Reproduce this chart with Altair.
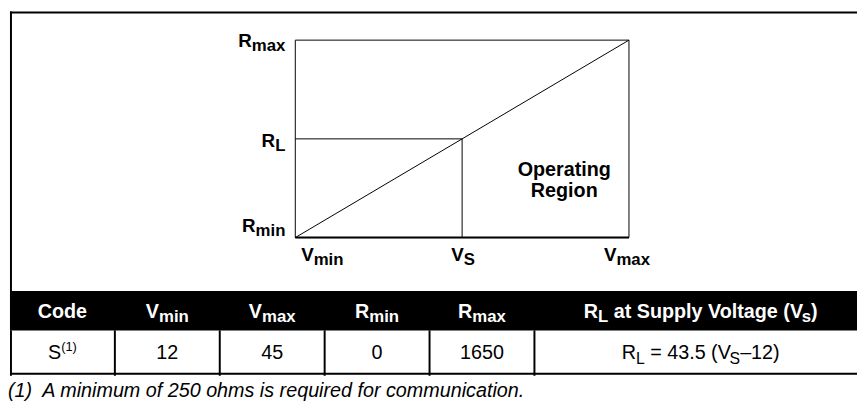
import altair as alt
import pandas as pd

# ---------------- data ----------------
V_NAMES = ["min", "S", "max"]
V_VALUES = [12, 28.5, 45]          # Vmin, Vs (schematic), Vmax
R_NAMES = ["min", "L", "max"]
R_VALUES = [0, 825, 1650]          # Rmin, RL (schematic), Rmax
REGION_TEXT = ["Operating", "Region"]
REGION_V = 38.6
REGION_R = 515

COLUMNS = ["Code", "Vmin", "Vmax", "Rmin", "Rmax", "RL at Supply Voltage (Vs)"]
COL_SPAN = [1, 1, 1, 1, 1, 3]
HEADER_PIECES = [
    [("Code", "m")],
    [("V", "m"), ("min", "s")],
    [("V", "m"), ("max", "s")],
    [("R", "m"), ("min", "s")],
    [("R", "m"), ("max", "s")],
    [("R", "m"), ("L", "s"), (" at Supply Voltage (V", "m"), ("s", "s"), (")", "m")],
]
ROW_PIECES = [
    [("S", "m"), ("(1)", "p")],
    [("12", "m")],
    [("45", "m")],
    [("0", "m")],
    [("1650", "m")],
    [("R", "m"), ("L", "s"), (" = 43.5 (V", "m"), ("S", "s"), ("\u201312)", "m")],
]
FOOTNOTE = "(1)\u00a0 A minimum of 250 ohms is required for communication."

# ---------------- styling helpers ----------------
FONT = "Liberation Sans"
W = 858

REG = {" ": 278, "(": 333, ")": 333, ".": 278, "=": 584, "\u2013": 556,
       "A": 667, "C": 722, "L": 556, "R": 722, "S": 667, "V": 667,
       "a": 556, "b": 556, "c": 500, "d": 556, "e": 556, "f": 278, "g": 556,
       "h": 556, "i": 222, "j": 222, "k": 500, "l": 222, "m": 833, "n": 556,
       "o": 556, "p": 556, "q": 556, "r": 333, "s": 500, "t": 278, "u": 556,
       "v": 500, "w": 722, "x": 500, "y": 500, "z": 500}
BOLD = {" ": 278, "(": 333, ")": 333, ".": 278, "C": 722, "L": 611, "O": 778,
        "R": 722, "S": 667, "V": 667,
        "a": 556, "b": 611, "c": 556, "d": 611, "e": 556, "f": 333, "g": 611,
        "h": 611, "i": 278, "j": 278, "k": 556, "l": 278, "m": 889, "n": 611,
        "o": 611, "p": 611, "q": 611, "r": 389, "s": 556, "t": 333, "u": 611,
        "v": 556, "w": 778, "x": 556, "y": 556, "z": 500}


def tw(s, size, bold):
    t = BOLD if bold else REG
    w = sum(t.get(c, 556) for c in s) * size / 1000.0
    if len(s) > 4:          # browser kerning tightens long runs a little
        w *= 0.985
    return w


def rich(df, x, y, pieces, sizes, shifts, anchor, dx, dy, bold, color):
    ws = [tw(t, sizes[r], bold) for t, r in pieces]
    total = sum(ws)
    start = dx - {"left": 0, "center": total / 2.0, "right": total}[anchor]
    out = []
    for (t, r), w in zip(pieces, ws):
        lead = len(t) - len(t.lstrip(" "))
        off = start + tw(" " * lead, sizes[r], bold)
        out.append(
            alt.Chart(df).mark_text(
                text=t.strip(" "), align="left", baseline="alphabetic",
                dx=off, dy=dy + shifts[r], font=FONT, fontSize=sizes[r],
                fontWeight="bold" if bold else "normal", color=color,
            ).encode(x=x, y=y)
        )
        start += w
    return out


one = pd.DataFrame({"k": [0]})

# ---------------- diagram ----------------
xs = alt.Scale(domain=[V_VALUES[0], V_VALUES[2]], range=[289, 627], nice=False, zero=False)
ys = alt.Scale(domain=[R_VALUES[0], R_VALUES[2]], range=[230, 30], nice=False, zero=False)


def X(f):
    return alt.X(f, type="quantitative", scale=xs, axis=None)


def Y(f):
    return alt.Y(f, type="quantitative", scale=ys, axis=None)


frame_df = pd.DataFrame({"v0": [V_VALUES[0]], "v1": [V_VALUES[2]], "vs": [V_VALUES[1]],
                         "r0": [R_VALUES[0]], "r1": [R_VALUES[2]], "rl": [R_VALUES[1]]})
diag_df = pd.DataFrame({"V": [V_VALUES[0], V_VALUES[2]], "R": [R_VALUES[0], R_VALUES[2]]})

layers = []
layers.append(alt.Chart(one).mark_rule(color="black", strokeWidth=2).encode(
    x=alt.value(0), x2=alt.value(W), y=alt.value(2)))
layers.append(alt.Chart(one).mark_rule(color="black", strokeWidth=2).encode(
    x=alt.value(1), y=alt.value(1), y2=alt.value(284)))
layers.append(alt.Chart(frame_df).mark_rect(fillOpacity=0, stroke="black", strokeWidth=1).encode(
    x=X("v0"), x2="v1", y=Y("r0"), y2="r1"))
layers.append(alt.Chart(frame_df).mark_rule(color="black", strokeWidth=2).encode(
    x=X("v0"), x2="v1", y=Y("r0")))
layers.append(alt.Chart(frame_df).mark_rule(color="black", strokeWidth=1).encode(
    x=X("v0"), x2="vs", y=Y("rl")))
layers.append(alt.Chart(frame_df).mark_rule(color="black", strokeWidth=1).encode(
    x=X("vs"), y=Y("r0"), y2="rl"))
layers.append(alt.Chart(diag_df).mark_line(color="black", strokeWidth=1).encode(
    x=X("V"), y=Y("R")))

DSZ = {"m": 19, "s": 17, "p": 12}
DSH = {"m": 0, "s": 4, "p": -7}
r_dy = {"min": -6, "L": 8, "max": 7}
for name, val in zip(R_NAMES, R_VALUES):
    df = pd.DataFrame({"V": [V_VALUES[0]], "R": [val]})
    layers += rich(df, X("V"), Y("R"), [("R", "m"), (name, "s")], DSZ, DSH,
                   "right", -10, r_dy[name], True, "black")
v_anchor = {"min": ("left", 6), "S": ("center", 1), "max": ("center", -2)}
for name, val in zip(V_NAMES, V_VALUES):
    df = pd.DataFrame({"V": [val], "R": [R_VALUES[0]]})
    a, d = v_anchor[name]
    layers += rich(df, X("V"), Y("R"), [("V", "m"), (name, "s")], DSZ, DSH,
                   a, d, 24, True, "black")
region_df = pd.DataFrame({"V": [REGION_V], "R": [REGION_R]})
layers.append(alt.Chart(region_df).mark_text(
    text=REGION_TEXT, align="center", baseline="alphabetic", lineHeight=21,
    font=FONT, fontSize=20, fontWeight="bold", color="black").encode(x=X("V"), y=Y("R")))

diagram = alt.layer(*layers).properties(width=W, height=284)

# ---------------- table ----------------
starts = []
acc = 0
for s in COL_SPAN:
    starts.append(acc)
    acc += s
centers = [st + sp / 2.0 for st, sp in zip(starts, COL_SPAN)]
cs = alt.Scale(domain=[0, sum(COL_SPAN)], range=[0, 850], nice=False, zero=False)
cols_df = pd.DataFrame({"col": COLUMNS, "start": starts, "span": COL_SPAN})
text_nudge = [0, 0, 0, 0, 0, 9]

HSZ = {"m": 20, "s": 17, "p": 13}
HSH = {"m": 0, "s": 5, "p": -8}
hdr_layers = []
for c, pieces, nd in zip(centers, HEADER_PIECES, text_nudge):
    df = pd.DataFrame({"c": [c]})
    hdr_layers += rich(df, alt.X("c:Q", scale=cs, axis=None), alt.value(27), pieces,
                       HSZ, HSH, "center", nd, 0, True, "white")
header = alt.layer(*hdr_layers).properties(
    width=W, height=40, view=alt.ViewBackground(fill="black", stroke=None))

row_layers = []
row_layers.append(alt.Chart(cols_df).transform_filter("datum.start > 0").mark_rule(
    color="black", strokeWidth=2).encode(x=alt.X("start:Q", scale=cs, axis=None)))
row_layers.append(alt.Chart(one).mark_rule(color="black", strokeWidth=2).encode(
    x=alt.value(1), y=alt.value(0), y2=alt.value(46)))
row_layers.append(alt.Chart(one).mark_rule(color="black", strokeWidth=2).encode(
    x=alt.value(0), x2=alt.value(W), y=alt.value(44)))
RSZ = {"m": 20, "s": 16, "p": 13}
RSH = {"m": 0, "s": 5, "p": -8}
for c, pieces, nd in zip(centers, ROW_PIECES, text_nudge):
    df = pd.DataFrame({"c": [c]})
    row_layers += rich(df, alt.X("c:Q", scale=cs, axis=None), alt.value(29), pieces,
                       RSZ, RSH, "center", nd, 0, False, "black")
row = alt.layer(*row_layers).properties(width=W, height=46)

foot = alt.Chart(pd.DataFrame({"t": [FOOTNOTE]})).mark_text(
    align="left", baseline="alphabetic", font=FONT, fontSize=20, fontStyle="italic",
    color="black").encode(text="t:N", x=alt.value(-2), y=alt.value(21)).properties(width=W, height=22)

chart = alt.vconcat(diagram, header, row, foot, spacing=0).properties(
    padding=0, bounds="flush").configure_view(stroke=None)

chart.save("out.html", embed_options={"renderer": "svg", "actions": False})
